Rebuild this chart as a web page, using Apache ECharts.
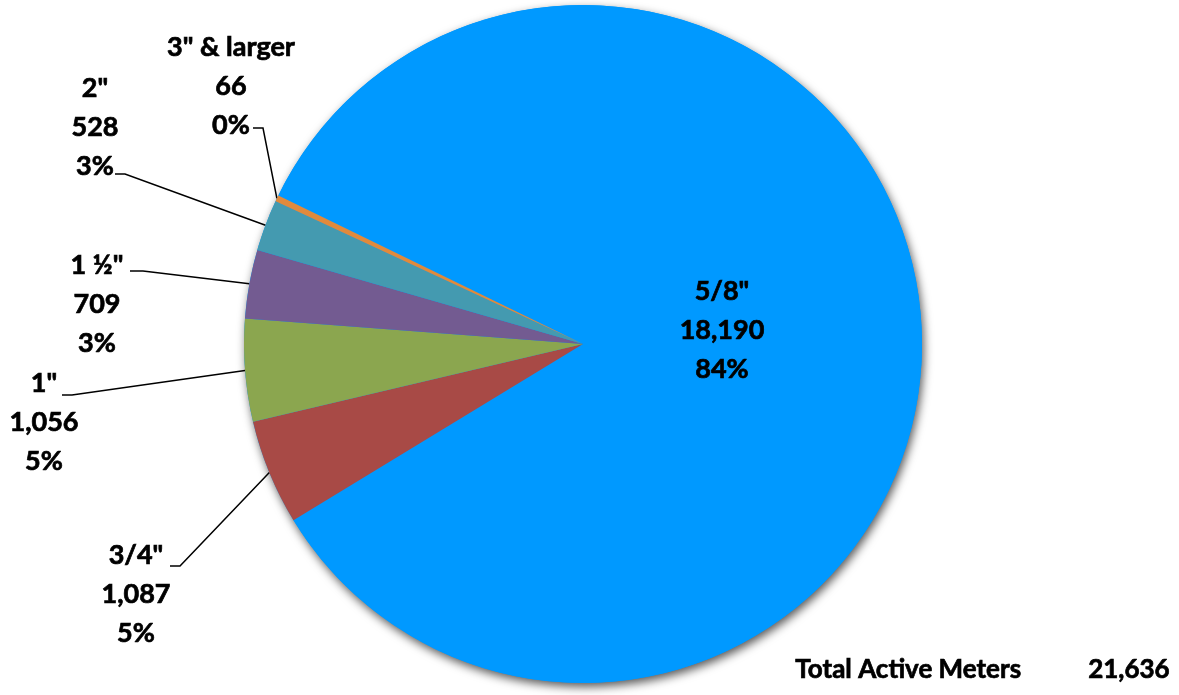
<!DOCTYPE html>
<html>
<head>
<meta charset="utf-8">
<script src="https://cdn.jsdelivr.net/npm/echarts@6/dist/echarts.min.js"></script>
<style>
html,body{margin:0;padding:0;background:#fff;}
#chart{width:1179px;height:695px;}
</style>
</head>
<body>
<div id="chart"></div>
<script>
// ---- data ----
var categories = ['5/8"', '3/4"', '1"', '1 ½"', '2"', '3" & larger'];
var meterCounts = [18190, 1087, 1056, 709, 528, 66];
var totalLabel = 'Total Active Meters';

// ---- styles / layout (kept separate from data) ----
var sliceColors = ['#0099FF', '#A84A46', '#8BA64F', '#735B91', '#449AB0', '#E08A3C'];
// label block centres [x, y]
var labelCenters = [[722, 330], [136, 594], [44, 422], [97, 304], [95, 127], [231, 86]];
// leader line: [endX, bendX, y]
var leaderEnds = [null, [170, 180, 566], [62, 72, 395], [130, 143, 271], [115, 125, 174], [253, 263, 128]];

var FONT = 'Lato, "Open Sans", sans-serif';
var total = meterCounts.reduce(function (a, b) { return a + b; }, 0);

var chart = echarts.init(document.getElementById('chart'), null, {renderer: 'canvas'});

var pieData = categories.map(function (c, i) {
  var item = {name: c, value: meterCounts[i], itemStyle: {color: sliceColors[i]}};
  if (i === 0) {
    item.label = {position: 'inside'};
    item.labelLine = {show: false};
  }
  return item;
});

var option = {
  backgroundColor: '#ffffff',
  animation: false,
  series: [
    {
      type: 'pie',
      silent: true,
      center: [583, 344],
      radius: [0, 339],
      z: 1,
      label: {show: false},
      labelLine: {show: false},
      data: [{value: 1, itemStyle: {color: '#0099FF', shadowBlur: 10, shadowColor: 'rgba(0,0,0,0.65)', shadowOffsetX: 2, shadowOffsetY: 4}}]
    },
    {
      type: 'pie',
      center: [583, 344],
      radius: [0, 339],
      startAngle: 154,
      clockwise: true,
      percentPrecision: 0,
      z: 2,
      avoidLabelOverlap: false,
      itemStyle: {borderWidth: 0},
      label: {
        show: true,
        position: 'outside',
        color: '#000',
        fontFamily: FONT,
        fontWeight: 'bold',
        fontSize: 27,
        lineHeight: 39,
        align: 'center',
        textBorderColor: '#000',
        textBorderWidth: 0.7,
        formatter: function (p) {
          return p.name + '\n' + p.value.toLocaleString('en-US') + '\n' + p.percent + '%';
        }
      },
      labelLine: {show: true, smooth: false, lineStyle: {color: '#000', width: 1.5}},
      labelLayout: function (params) {
        var i = params.dataIndex;
        var c = labelCenters[i];
        var res = {x: c[0], y: c[1], align: 'center', verticalAlign: 'middle'};
        var le = leaderEnds[i];
        if (le && params.labelLinePoints) {
          var p0 = params.labelLinePoints[0];
          res.labelLinePoints = [[p0[0], p0[1]], [le[1], le[2]], [le[0], le[2]]];
        }
        return res;
      },
      data: pieData
    }
  ],
  graphic: [
    {
      type: 'text', left: 795, top: 656, z: 10,
      style: {text: totalLabel, font: 'bold 26px ' + FONT, fill: '#000', stroke: '#000', lineWidth: 0.7}
    },
    {
      type: 'text', right: 9, top: 656, z: 10,
      style: {text: total.toLocaleString('en-US'), font: 'bold 26px ' + FONT, fill: '#000', stroke: '#000', lineWidth: 0.7, textAlign: 'right'}
    }
  ]
};
chart.setOption(option);
</script>
</body>
</html>
